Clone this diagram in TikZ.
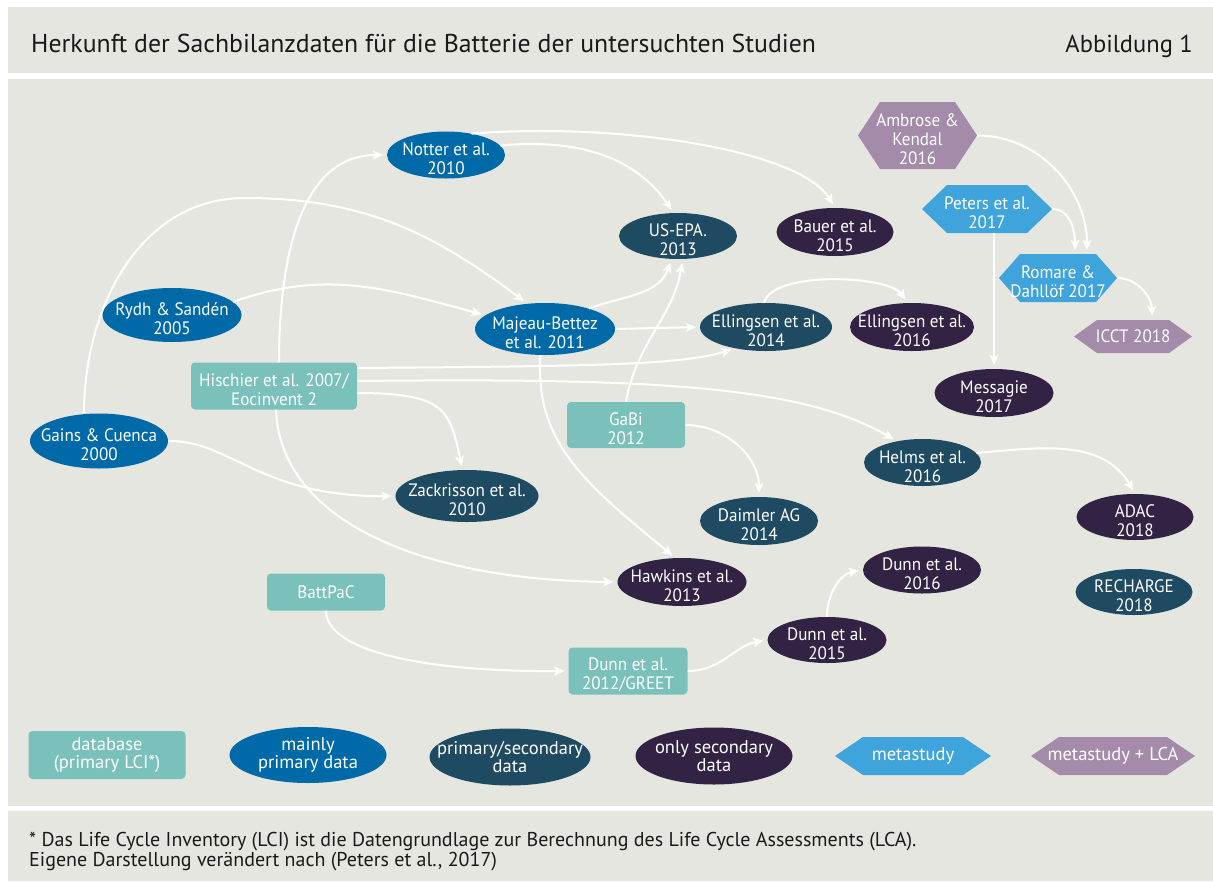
\documentclass[tikz,border=0pt]{standalone}
\usepackage{fontspec}
\setmainfont{PT Sans}
\newfontfamily\ndfont{PT Sans}[FakeStretch=0.95]
\usetikzlibrary{arrows.meta,shapes.geometric}
\definecolor{bgc}{HTML}{E6E6E1}
\definecolor{dbc}{HTML}{7AC1BC}
\definecolor{mpc}{HTML}{0069A8}
\definecolor{psc}{HTML}{1E4A62}
\definecolor{osc}{HTML}{322243}
\definecolor{msc}{HTML}{3FA3DC}
\definecolor{mlc}{HTML}{A38BA9}
\definecolor{txc}{HTML}{1A1A1A}
\newcommand\nodestrut{\rule{0pt}{21pt}}
\begin{document}
\begin{tikzpicture}[x=1pt,y=-1pt,
 base/.style={text=white, align=center, inner sep=0pt, font=\ndfont\fontsize{18}{19}\selectfont},
 box/.style={base, rectangle, rounded corners=4pt, fill=dbc},
 ovl/.style={base, ellipse, inner xsep=-45pt, inner ysep=-12pt},
 hexa/.style 2 args={base, rectangle, fill=bgc, path picture={\fill[#1] (path picture bounding box.west) -- ([xshift=#2]path picture bounding box.north west) -- ([xshift=-#2]path picture bounding box.north east) -- (path picture bounding box.east) -- ([xshift=-#2]path picture bounding box.south east) -- ([xshift=#2]path picture bounding box.south west) -- cycle;}},
 legend/.style={font=\fontsize{18.5}{18.5}\selectfont},
 conn/.style={draw=white, line width=2pt, -{Stealth[length=10pt,width=9pt,inset=2.5pt]}, shorten >=4pt},
 bandtext/.style={text=txc, inner sep=0pt}
]
\useasboundingbox (0,0) rectangle (1213,881);
\fill[white] (0,0) rectangle (1213,881);
\fill[bgc] (8,7) rectangle (1213,73);
\fill[bgc] (8,79) rectangle (1213,806);
\fill[bgc] (8,811) rectangle (1213,881);

\node[bandtext, anchor=base west, font=\fontsize{25.8}{27}\selectfont] (title) at (31,52) {Herkunft der Sachbilanzdaten für die Batterie der untersuchten Studien};
\node[bandtext, anchor=base east, font=\fontsize{24.5}{27}\selectfont] (abb) at (1193,52) {Abbildung 1};

% nodes
\node[ovl, fill=mpc, minimum width=118pt, minimum height=47pt] (notter) at (446,155) {\nodestrut Notter et al.\\2010};
\node[ovl, fill=psc, minimum width=118pt, minimum height=46pt] (usepa) at (678,236) {\nodestrut US-EPA.\\2013};
\node[ovl, fill=osc, minimum width=117pt, minimum height=48pt] (bauer) at (835,232) {\nodestrut Bauer et al.\\2015};
\node[hexa={mlc}{22pt}, minimum width=119pt, minimum height=67pt] (ambrose) at (917.5,135.5) {\nodestrut Ambrose \&\\Kendal\\2016};
\node[hexa={msc}{25pt}, minimum width=130pt, minimum height=48pt] (peters) at (987,209) {\nodestrut Peters et al.\\2017};
\node[hexa={msc}{21pt}, minimum width=118pt, minimum height=48pt] (romare) at (1058,278) {\nodestrut Romare \&\\Dahllöf 2017};
\node[hexa={mlc}{23pt}, minimum width=118pt, minimum height=33pt] (icct) at (1133,336.5) {ICCT 2018};
\node[ovl, fill=mpc, minimum width=139pt, minimum height=54pt] (rydh) at (172,315) {\nodestrut Rydh \& Sandén\\2005};
\node[ovl, fill=mpc, minimum width=140pt, minimum height=52pt] (majeau) at (545,329) {\nodestrut Majeau-Bettez\\et al. 2011};
\node[ovl, fill=psc, minimum width=132pt, minimum height=48pt] (ell14) at (766,327) {\nodestrut Ellingsen et al.\\2014};
\node[ovl, fill=osc, minimum width=124pt, minimum height=48pt] (ell16) at (912,327) {\nodestrut Ellingsen et al.\\2016};
\node[ovl, fill=osc, minimum width=119pt, minimum height=48pt] (messagie) at (994,393) {\nodestrut Messagie\\2017};
\node[box, minimum width=166pt, minimum height=47pt] (hischier) at (274,386) {\nodestrut Hischier et al. 2007/\\Eocinvent 2};
\node[ovl, fill=mpc, minimum width=138pt, minimum height=55pt] (gains) at (99,441) {\nodestrut Gains \& Cuenca\\2000};
\node[box, minimum width=118pt, minimum height=46pt] (gabi) at (626,425) {\nodestrut GaBi\\2012};
\node[ovl, fill=psc, minimum width=143pt, minimum height=52pt] (zack) at (467,496) {\nodestrut Zackrisson et al.\\2010};
\node[ovl, fill=psc, minimum width=117pt, minimum height=47pt] (helms) at (922.5,462.5) {\nodestrut Helms et al.\\2016};
\node[ovl, fill=psc, minimum width=118pt, minimum height=48pt] (daimler) at (759,521) {\nodestrut Daimler AG\\2014};
\node[ovl, fill=osc, minimum width=117pt, minimum height=46pt] (adac) at (1135,517) {\nodestrut ADAC\\2018};
\node[ovl, fill=osc, minimum width=129pt, minimum height=48pt] (hawkins) at (682,582) {\nodestrut Hawkins et al.\\2013};
\node[box, minimum width=118pt, minimum height=37pt] (battpac) at (326,592) {BattPaC};
\node[ovl, fill=osc, minimum width=118pt, minimum height=47pt] (dunn16) at (922,570) {\nodestrut Dunn et al.\\2016};
\node[ovl, fill=psc, minimum width=117pt, minimum height=46pt] (recharge) at (1134,592) {\nodestrut RECHARGE\\2018};
\node[box, minimum width=119pt, minimum height=47pt] (dunn12) at (628,671) {\nodestrut Dunn et al.\\2012/GREET};
\node[ovl, fill=osc, minimum width=119pt, minimum height=46pt] (dunn15) at (827,640) {\nodestrut Dunn et al.\\2015};

% connectors
\draw[conn] ([xshift=-15pt]gains.north) to[out=90,in=180] (245,198) to[out=0,in=143] (majeau.125);
\draw[conn] (gains.east) .. controls (230,440) and (260,497) .. (zack.west);
\draw[conn] (rydh.12) to[out=20,in=165] (majeau.167);
\draw[conn] ([xshift=5pt]hischier.north) to[out=90,in=180] (notter.west);
\draw[conn] ([xshift=2pt]hischier.south) .. controls (280,520) and (420,580) .. (hawkins.west);
\draw[conn] ([yshift=18pt]hischier.east) .. controls (600,366) and (680,365) .. (ell14.215);
\draw[conn] ([yshift=5pt]hischier.east) .. controls (650,378) and (800,385) .. (helms.140);
\draw[conn] ([yshift=-7pt]hischier.east) .. controls (445,393) and (450,410) .. (zack.100);
\draw[conn] (notter.10) to[out=5,in=125] (usepa.100);
\draw[conn] (notter.40) .. controls (620,122) and (800,150) .. (bauer.north);
\draw[conn] (majeau.25) to[out=20,in=250] (usepa.255);
\draw[conn] (gabi.north) to[out=80,in=260] (usepa.282);
\draw[conn] (majeau.east) -- (ell14.west);
\draw[conn] (majeau.260) .. controls (535,440) and (580,480) .. (hawkins.105);
\draw[conn] (ell14.95) to[out=75,in=125,looseness=0.6] (ell16.100);
\draw[conn] (gabi.east) to[out=0,in=90] (daimler.north);
\draw[conn] (helms.10) to[out=5,in=120] (adac.north);
\draw[conn] (battpac.south) .. controls (326,650) and (420,672) .. (dunn12.west);
\draw[conn] (dunn12.east) to[out=0,in=190] (dunn15.west);
\draw[conn] (dunn15.north) to[out=90,in=190] (dunn16.west);
\draw[conn] (ambrose.east) to[out=0,in=90] ([xshift=29pt]romare.north);
\draw[conn] (peters.east) to[out=0,in=90] ([xshift=17pt]romare.north);
\draw[conn] ([xshift=7pt]peters.south) -- (messagie.north);
\draw[conn] (romare.east) to[out=0,in=90] ([xshift=19pt]icct.north);

% legend
\node[box, legend, minimum width=157pt, minimum height=48pt] (lg1) at (107,755) {database\\(primary LCI*)};
\node[ovl, legend, fill=mpc, minimum width=157pt, minimum height=56pt] (lg2) at (308,755) {mainly\\primary data};
\node[ovl, legend, fill=psc, minimum width=161pt, minimum height=57pt] (lg3) at (510,757) {primary/secondary\\data};
\node[ovl, legend, fill=osc, minimum width=157pt, minimum height=57pt] (lg4) at (714,756) {only secondary\\data};
\node[hexa={msc}{28pt}, legend, minimum width=156pt, minimum height=38pt] (lg5) at (913,756) {metastudy};
\node[hexa={mlc}{28pt}, legend, minimum width=164pt, minimum height=38pt] (lg6) at (1113,756) {metastudy + LCA};

% footer
\node[bandtext, anchor=base west, font=\fontsize{20}{21}\selectfont] (fn1) at (29,846) {* Das Life Cycle Inventory (LCI) ist die Datengrundlage zur Berechnung des Life Cycle Assessments (LCA).};
\node[bandtext, anchor=base west, font=\fontsize{20}{21}\selectfont] (fn2) at (29,866) {Eigene Darstellung verändert nach (Peters et al., 2017)};
\end{tikzpicture}
\end{document}
